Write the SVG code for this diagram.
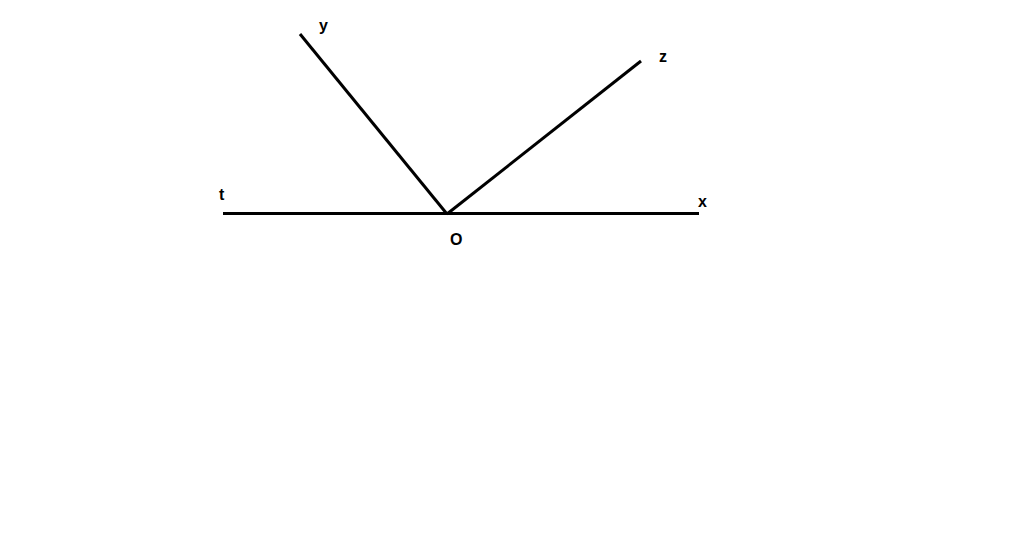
<svg xmlns="http://www.w3.org/2000/svg" width="1024" height="552" viewBox="0 0 1024 552">
<style>
.ln{stroke:#000;stroke-width:3;fill:none;stroke-linecap:butt}
.lb{font-family:"Liberation Sans",Arial,sans-serif;font-weight:bold;font-size:16px;fill:#000}
</style>
<rect width="1024" height="552" fill="#fff"/>
<g id="connectors">
<line class="ln" x1="223" y1="213.5" x2="699" y2="213.5"/>
<line class="ln" x1="300" y1="34" x2="447" y2="214"/>
<line class="ln" x1="447" y1="214" x2="641" y2="61"/>
</g>
<g id="label-y"><text class="lb" x="319" y="31">y</text></g>
<g id="label-z"><text class="lb" x="659" y="62">z</text></g>
<g id="label-t"><text class="lb" x="219" y="200">t</text></g>
<g id="label-x"><text class="lb" x="698" y="207">x</text></g>
<g id="label-O"><text class="lb" x="450" y="245">O</text></g>
</svg>
